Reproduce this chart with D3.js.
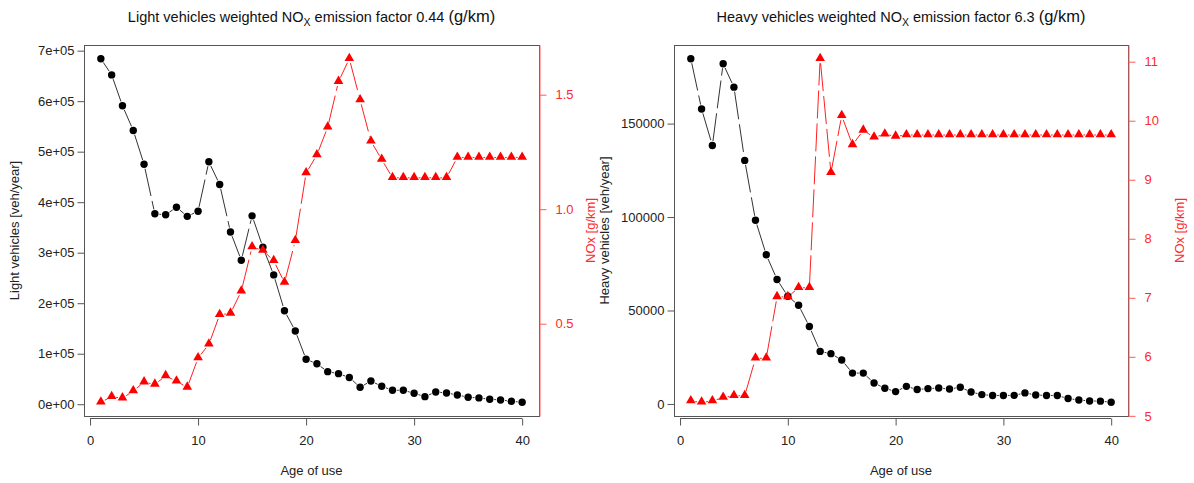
<!DOCTYPE html>
<html>
<head>
<meta charset="utf-8">
<script src="https://cdn.jsdelivr.net/npm/d3@7"></script>
<style>
body { margin: 0; background: #fff; }
svg { display: block; }
text { font-family: "Liberation Sans", Arial, sans-serif; }
</style>
</head>
<body>
<svg id="chart" width="1194" height="483"></svg>
<script>
var ages = [1,2,3,4,5,6,7,8,9,10,11,12,13,14,15,16,17,18,19,20,
            21,22,23,24,25,26,27,28,29,30,31,32,33,34,35,36,37,38,39,40];

// light vehicles [veh/year] and NOx factor [g/km]
var lightVeh = [684000,652000,591000,542000,475000,377000,375000,390000,372000,382000,
                480000,435000,341000,285000,373000,311000,256000,185000,145000,89000,
                80000,64500,60500,53000,33500,46000,35500,27600,27600,21700,
                15000,24300,22300,18400,13800,12500,9900,8500,5900,3900];
var lightNox = [0.157,0.181,0.175,0.206,0.245,0.235,0.272,0.249,0.222,0.350,
                0.410,0.539,0.545,0.642,0.835,0.820,0.775,0.680,0.862,1.158,
                1.237,1.358,1.557,1.657,1.477,1.297,1.217,1.137,1.137,1.137,
                1.137,1.137,1.137,1.226,1.226,1.226,1.226,1.226,1.226,1.226];

// heavy vehicles [veh/year] and NOx factor [g/km]
var heavyVeh = [184700,157800,138300,182000,169500,130300,98300,79800,66600,57600,
                52800,41400,28100,26900,23500,16500,16500,11200,8400,6600,
                9400,7700,8200,8500,8000,8900,6400,5000,4500,4500,
                4600,5900,4800,4500,4500,2900,2100,1600,1500,900];
var heavyNox = [5.25,5.23,5.25,5.31,5.34,5.34,5.975,5.975,7.015,7.015,
                7.17,7.17,11.05,9.117,10.085,9.59,9.836,9.72,9.77,9.735,
                9.758,9.758,9.758,9.758,9.758,9.758,9.758,9.758,9.758,9.758,
                9.758,9.758,9.758,9.758,9.758,9.758,9.758,9.758,9.758,9.758];

var ageTicks = [0,10,20,30,40];
var lightTicks = [0,100000,200000,300000,400000,500000,600000,700000];
var lightNoxTicks = [0.5,1.0,1.5];
var heavyTicks = [0,50000,100000,150000];
var heavyNoxTicks = [5,6,7,8,9,10,11];

var svg = d3.select("#chart");
var top0 = 45, bottom0 = 416;
var axisGrey = "#555", labelCol = "#222", redAxis = "#ff5a5a";
var fs = "13px";

// R style range: data extent widened by 4%
function rRange(vals) {
	var e = d3.extent(vals), d = (e[1] - e[0]) * 0.04;
	return [e[0] - d, e[1] + d];
}

function sciFmt(d) {
	if (d === 0) return "0e+00";
	return (d / 100000) + "e+05";
}

function drawLines(g, xs, ys, data, colour, dash) {
	var gap = 4.5;
	for (var i = 0; i < data.length - 1; i++) {
		var ax = xs(ages[i]), ay = ys(data[i]);
		var bx = xs(ages[i + 1]), by = ys(data[i + 1]);
		var len = Math.hypot(bx - ax, by - ay);
		if (len <= 2 * gap) continue;
		var ux = (bx - ax) / len, uy = (by - ay) / len;
		g.append("line")
			.attr("x1", ax + ux * gap).attr("y1", ay + uy * gap)
			.attr("x2", bx - ux * gap).attr("y2", by - uy * gap)
			.attr("stroke", colour)
			.attr("stroke-width", 1)
			.attr("stroke-dasharray", dash);
	}
}

function drawPanel(p) {
	var g = svg.append("g");
	var x = d3.scaleLinear().domain(rRange(ages)).range([p.x0, p.x1]);
	var y = d3.scaleLinear().domain(rRange(p.veh)).range([bottom0, top0]);
	var y2 = d3.scaleLinear().domain(rRange(p.nox)).range([bottom0, top0]);

	// box
	g.append("rect")
		.attr("x", p.x0 + 0.5).attr("y", top0 + 0.5)
		.attr("width", p.x1 - p.x0).attr("height", bottom0 - top0)
		.attr("fill", "none").attr("stroke", axisGrey);

	// x axis
	var xa = g.append("g").attr("transform", "translate(0," + (bottom0 + 2.5) + ")")
		.call(d3.axisBottom(x).tickValues(ageTicks).tickSize(7).tickPadding(10).tickSizeOuter(0));
	xa.select(".domain").attr("d", "M" + x(0) + ",0H" + x(40)).attr("stroke", axisGrey);
	xa.selectAll(".tick line").attr("stroke", axisGrey);
	xa.selectAll("text").attr("font-size", fs).attr("fill", labelCol)
		.attr("font-family", "Liberation Sans, Arial, sans-serif");

	// left y axis
	var ya = g.append("g").attr("transform", "translate(" + (p.x0 + 0.5) + ",0)")
		.call(d3.axisLeft(y).tickValues(p.vehTicks).tickFormat(p.fmt).tickSize(7).tickPadding(3).tickSizeOuter(0));
	ya.select(".domain").remove();
	ya.selectAll(".tick line").attr("stroke", axisGrey);
	ya.selectAll("text").attr("font-size", fs).attr("fill", labelCol)
		.attr("font-family", "Liberation Sans, Arial, sans-serif");

	// right red axis
	var ra = g.append("g").attr("transform", "translate(" + (p.x1 + 0.5) + ",0)")
		.call(d3.axisRight(y2).tickValues(p.noxTicks).tickFormat(p.noxFmt).tickSize(7).tickPadding(9).tickSizeOuter(0));
	ra.select(".domain").attr("stroke", redAxis);
	ra.selectAll(".tick line").attr("stroke", redAxis);
	ra.selectAll("text").attr("font-size", fs).attr("fill", "#ff2a2a")
		.attr("font-family", "Liberation Sans, Arial, sans-serif");

	// lines
	drawLines(g, x, y, p.veh, "#333", "28,5");
	drawLines(g, x, y2, p.nox, "#ff2020", "28,5");

	// points
	g.selectAll(".veh").data(p.veh).join("circle")
		.attr("cx", function(d, i) { return x(ages[i]); })
		.attr("cy", function(d) { return y(d); })
		.attr("r", 3.7)
		.attr("fill", "#000");
	g.selectAll(".nox").data(p.nox).join("path")
		.attr("d", d3.symbol().type(d3.symbolTriangle).size(40))
		.attr("transform", function(d, i) { return "translate(" + x(ages[i]) + "," + (y2(d) - 0.5) + ")"; })
		.attr("fill", "#ff0000");

	var cx = (p.x0 + p.x1) / 2, cy = (top0 + bottom0) / 2;

	// axis titles
	g.append("text").attr("x", cx).attr("y", 475)
		.attr("text-anchor", "middle").attr("font-size", fs).attr("fill", labelCol)
		.text("Age of use");
	g.append("text")
		.attr("transform", "translate(" + (p.x0 - 65) + "," + cy + ") rotate(-90)")
		.attr("text-anchor", "middle").attr("font-size", fs).attr("fill", labelCol)
		.text(p.yLabel);
	g.append("text")
		.attr("transform", "translate(" + (p.x1 + 56) + "," + cy + ") rotate(-90)")
		.attr("text-anchor", "middle").attr("font-size", fs).attr("fill", "#ff2a2a")
		.text("NOx [g/km]");

	// title with subscript
	var t = g.append("text").attr("x", cx).attr("y", 22)
		.attr("text-anchor", "middle").attr("font-size", "14.5px").attr("fill", "#111");
	t.append("tspan").text(p.titleA + " weighted NO");
	t.append("tspan").attr("font-size", "10.5px").attr("dy", 4).text("X");
	t.append("tspan").attr("dy", -4).text(" emission factor " + p.factor + " ");
	t.append("tspan").attr("font-size", "16.5px").text("(g/km)");
}

drawPanel({
	x0: 84, x1: 539,
	veh: lightVeh, nox: lightNox,
	vehTicks: lightTicks, noxTicks: lightNoxTicks,
	fmt: sciFmt, noxFmt: d3.format(".1f"),
	yLabel: "Light vehicles [veh/year]",
	titleA: "Light vehicles", factor: "0.44"
});

drawPanel({
	x0: 674, x1: 1128,
	veh: heavyVeh, nox: heavyNox,
	vehTicks: heavyTicks, noxTicks: heavyNoxTicks,
	fmt: d3.format("d"), noxFmt: d3.format("d"),
	yLabel: "Heavy vehicles [veh/year]",
	titleA: "Heavy vehicles", factor: "6.3"
});
</script>
</body>
</html>
